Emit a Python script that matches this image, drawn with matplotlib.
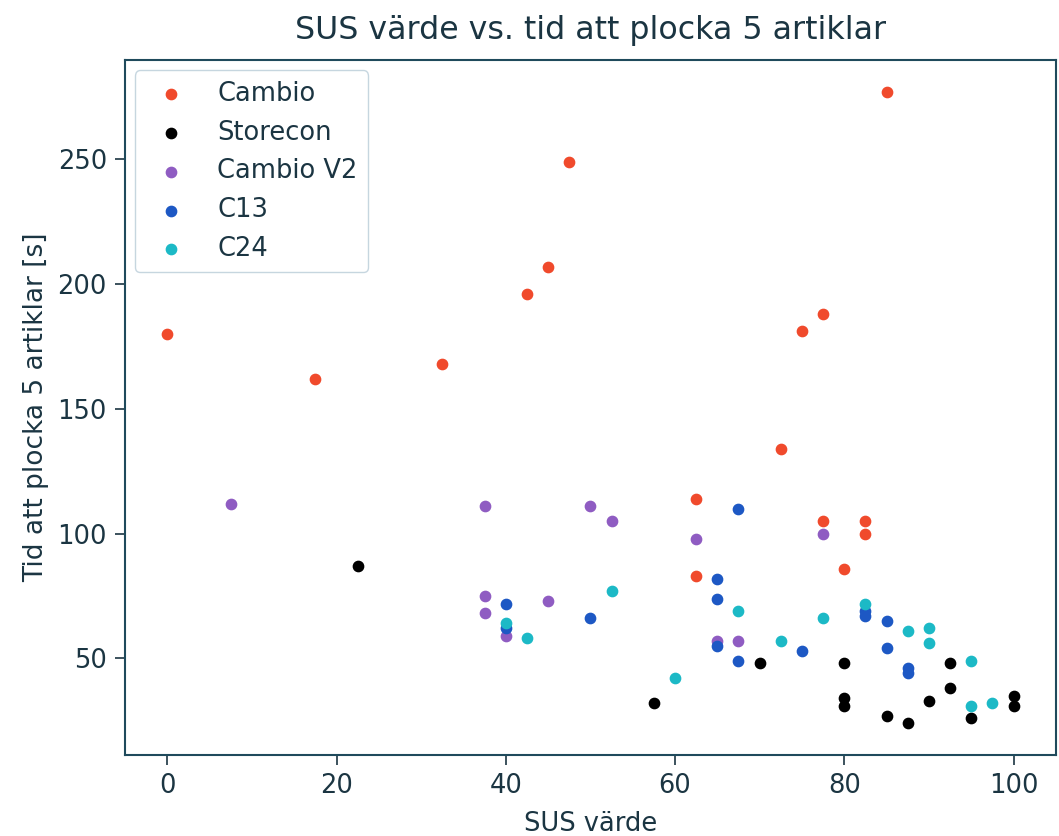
import matplotlib.pyplot as plt

# SUS score vs. time to pick 5 items, per prototype
cambio_x = [0, 17.5, 32.5, 42.5, 45, 47.5, 62.5, 62.5, 72.5, 75, 77.5, 77.5, 80, 82.5, 82.5, 85]
cambio_y = [180, 162, 168, 196, 207, 249, 114, 83, 134, 181, 188, 105, 86, 105, 100, 277]

storecon_x = [22.5, 57.5, 70, 80, 80, 80, 85, 87.5, 90, 92.5, 92.5, 95, 100, 100]
storecon_y = [87, 32, 48, 48, 34, 31, 27, 24, 33, 48, 38, 26, 35, 31]

cambio_v2_x = [7.5, 37.5, 37.5, 37.5, 40, 45, 50, 52.5, 62.5, 65, 67.5, 77.5]
cambio_v2_y = [112, 111, 75, 68, 59, 73, 111, 105, 98, 57, 57, 100]

c13_x = [40, 40, 50, 65, 65, 65, 67.5, 67.5, 75, 82.5, 82.5, 85, 85, 87.5, 87.5]
c13_y = [72, 62, 66, 82, 74, 55, 110, 49, 53, 69, 67, 65, 54, 46, 44]

c24_x = [40, 42.5, 52.5, 60, 67.5, 72.5, 77.5, 82.5, 87.5, 90, 90, 95, 95, 97.5]
c24_y = [64, 58, 77, 42, 69, 57, 66, 72, 61, 62, 56, 49, 31, 32]

text_col = '#1b3542'
spine_col = '#1f4a5c'

fig = plt.figure(figsize=(10.59, 8.36), dpi=100)
ax = fig.add_axes([0.118, 0.097, 0.879, 0.831])

ax.scatter(cambio_x, cambio_y, s=55, color='#f04a2c', label='Cambio')
ax.scatter(storecon_x, storecon_y, s=55, color='black', label='Storecon')
ax.scatter(cambio_v2_x, cambio_v2_y, s=55, color='#8f5cc2', label='Cambio V2')
ax.scatter(c13_x, c13_y, s=55, color='#1d58c4', label='C13')
ax.scatter(c24_x, c24_y, s=55, color='#1cb9c6', label='C24')

ax.set_title('SUS värde vs. tid att plocka 5 artiklar', fontsize=22.8, color=text_col, pad=15)
ax.set_xlabel('SUS värde', fontsize=18.5, color=text_col, labelpad=9)
ax.set_ylabel('Tid att plocka 5 artiklar [s]', fontsize=19, color=text_col, labelpad=6)
ax.tick_params(labelsize=18.5, colors=text_col, length=7, width=1.2, pad=6)
for sp in ax.spines.values():
    sp.set_color(spine_col)
    sp.set_linewidth(1.5)

leg = ax.legend(loc='upper left', fontsize=18.5, labelcolor=text_col, borderaxespad=0.4)
leg.get_frame().set_edgecolor('#b8ccd8')

plt.savefig('out.png', dpi=100)
